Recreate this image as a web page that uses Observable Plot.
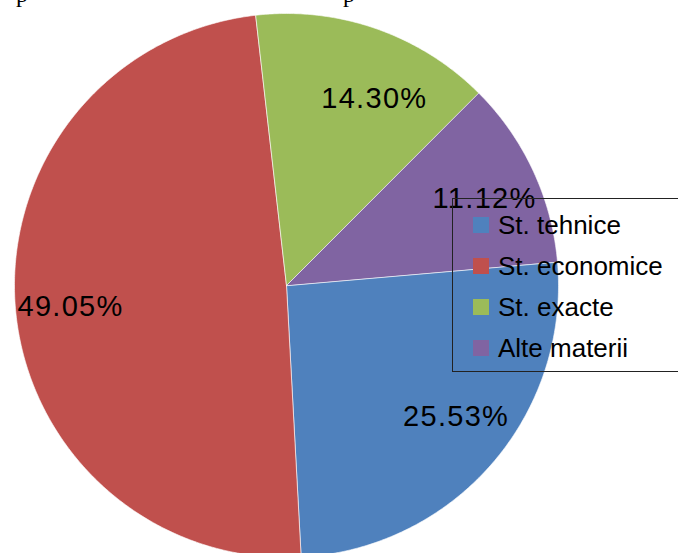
<!DOCTYPE html>
<html>
<head>
<meta charset="utf-8">
<script src="https://cdn.jsdelivr.net/npm/d3@7"></script>
<script src="https://cdn.jsdelivr.net/npm/@observablehq/plot@0.6"></script>
<style>
  html, body { margin: 0; padding: 0; background: #fff; }
  #wrap { position: relative; width: 678px; height: 553px; overflow: hidden; font-family: "Liberation Sans", Arial, sans-serif; }
  #wrap svg { position: absolute; left: 0; top: 0; }
  #wrap svg text { letter-spacing: 1.3px; }
  .cut { position: absolute; top: -18px; font-family: "Liberation Serif", serif; font-size: 24px; line-height: 1; color: #000; }
  #legend { position: absolute; left: 452px; top: 198px; width: 260px; height: 174px; border: 1px solid #222; box-sizing: border-box; }
  .item { position: absolute; left: 20px; height: 30px; display: flex; align-items: center; font-size: 26px; color: #000; white-space: nowrap; }
  .sw { width: 16px; height: 16px; margin-right: 9px; flex: none; }
</style>
</head>
<body>
<div id="wrap">
  <div class="cut" style="left:16px">p</div>
  <div class="cut" style="left:343px">p</div>
</div>
<script>
// ---- data ----
const categories = ["St. tehnice", "St. economice", "St. exacte", "Alte materii"];
const values = [25.53, 49.05, 14.30, 11.12];
const labels = ["25.53%", "49.05%", "14.30%", "11.12%"];
const colors = ["#4F81BD", "#C0504D", "#9BBB59", "#8064A2"];

// ---- layout (pixels) ----
const W = 678, H = 553;
const CX = 286, CY = 285, R = 272;
const startDeg = 85;
const labelFont = 29;
const FONT = "Liberation Sans, Arial, sans-serif";

const pie = d3.pie().sort(null).value(d => d.value)
  .startAngle(startDeg * Math.PI / 180).endAngle((startDeg + 360) * Math.PI / 180);
const table = categories.map((c, i) => ({category: c, value: values[i], label: labels[i]}));
const arcs = pie(table);

// slices as planar polygons on the unit circle (y up)
const pt = (a, r) => [r * Math.sin(a), r * Math.cos(a)];
const slices = arcs.map(a => {
  const ring = [[0, 0]];
  const n = Math.max(8, Math.ceil((a.endAngle - a.startAngle) / (Math.PI / 360)));
  for (let k = 0; k <= n; k++) ring.push(pt(a.startAngle + (a.endAngle - a.startAngle) * k / n, 1));
  ring.push([0, 0]);
  return {type: "Feature", properties: {category: a.data.category}, geometry: {type: "Polygon", coordinates: [ring]}};
});

// label placement: point on the bisector, shifted outward by half the label box per quadrant
const ctx = document.createElement("canvas").getContext("2d");
ctx.font = `${labelFont}px ${FONT}`;
const labelPts = arcs.map(a => {
  const m = (a.startAngle + a.endAngle) / 2;
  const [bx, by] = pt(m, 0.706);
  const w = ctx.measureText(a.data.label).width;
  const hw = 0.5 * (w / 2) / R, hh = 0.5 * (labelFont * 0.37) / R;
  return {x: bx + Math.sign(bx) * hw, y: by + Math.sign(by) * hh, text: a.data.label};
});

// frame in data units so that the unit circle sits at (CX, CY) with radius R
const x0 = -CX / R, x1 = (W - CX) / R, yTop = CY / R, yBot = -(H - CY) / R;
const frame = {type: "Polygon", coordinates: [[[x0, yBot], [x1, yBot], [x1, yTop], [x0, yTop], [x0, yBot]]]};

const chart = Plot.plot({
  width: W,
  height: H,
  margin: 0,
  projection: {type: "reflect-y", domain: frame, inset: 0},
  color: {domain: categories, range: colors},
  style: {background: "transparent"},
  marks: [
    Plot.geo(slices, {fill: d => d.properties.category, stroke: "#ffffff", strokeWidth: 1, strokeOpacity: 0.6}),
    Plot.text(labelPts, {x: "x", y: "y", text: "text", fontSize: labelFont, fill: "#000", fontFamily: FONT})
  ]
});
const wrap = document.getElementById("wrap");
wrap.insertBefore(chart, wrap.firstChild);

// legend overlay
const legend = document.createElement("div");
legend.id = "legend";
categories.forEach((c, i) => {
  const it = document.createElement("div");
  it.className = "item";
  it.style.top = (11 + i * 41) + "px";
  const sw = document.createElement("span");
  sw.className = "sw";
  sw.style.background = colors[i];
  it.appendChild(sw);
  it.appendChild(document.createTextNode(c));
  legend.appendChild(it);
});
wrap.appendChild(legend);
</script>
</body>
</html>
